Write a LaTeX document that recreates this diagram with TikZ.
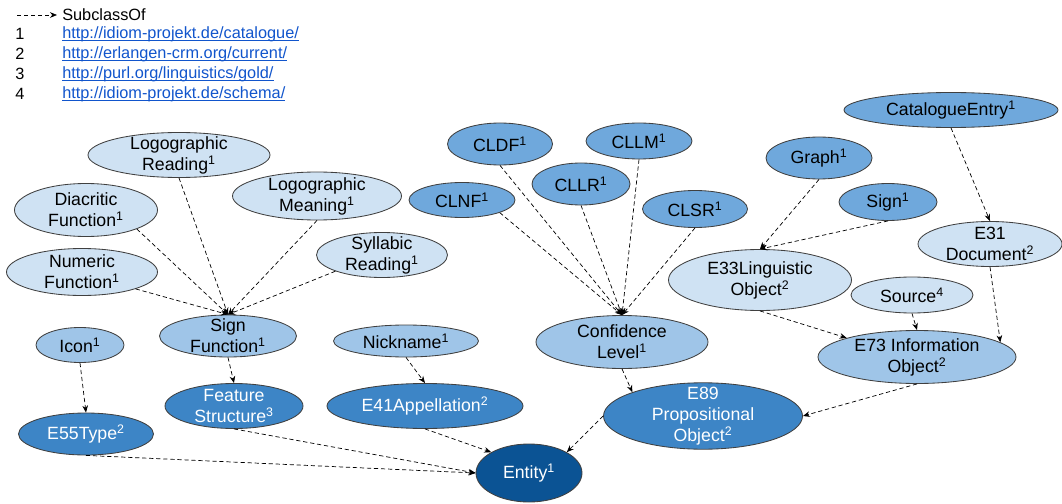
\documentclass[tikz,border=0pt]{standalone}
\usepackage{fontspec}
\setmainfont{Liberation Sans}
\usepackage{tikz}
\usetikzlibrary{arrows.meta,shapes.geometric,positioning}

\definecolor{lightcls}{HTML}{CFE2F3}
\definecolor{midcls}{HTML}{9FC5E8}
\definecolor{clcls}{HTML}{6FA8DC}
\definecolor{darkcls}{HTML}{3D85C6}
\definecolor{deepcls}{HTML}{0B5394}
\definecolor{urlblue}{HTML}{1155CC}

\newcommand{\srcno}[1]{\textsuperscript{#1}}
\newcommand{\urlline}[1]{\setbox0\hbox{#1}\rlap{\rule[-1.5pt]{\wd0}{0.5pt}}\box0}

\begin{document}
\begin{tikzpicture}[x=0.025cm, y=-0.025cm,
  cls/.style={ellipse, draw=black!75, line width=0.6pt, align=center,
    inner xsep=0pt, inner ysep=-4pt, font=\fontsize{12.6}{15}\selectfont},
  sz/.style 2 args={minimum width=#1*0.025cm, minimum height=#2*0.025cm},
  light/.style={cls, fill=lightcls},
  mid/.style={cls, fill=midcls},
  clb/.style={cls, fill=clcls},
  dark/.style={cls, fill=darkcls, text=white},
  deep/.style={cls, fill=deepcls, text=white},
  legend/.style={font=\fontsize{11.6}{14}\selectfont, inner sep=0pt},
  isa/.style={-{Stealth[length=5pt,width=4pt]}, dash pattern=on 3pt off 2pt,
    line width=0.5pt}
]
  \useasboundingbox (0,0) rectangle (1062,504);

  % legend
  \coordinate (keyfrom) at (17,15);
  \node[legend, anchor=west, inner xsep=0.125cm] (key) at (57,15) {SubclassOf};
  \draw[isa] (keyfrom) -- (key);
  \node[legend] (n1) at (20,34) {1};
  \node[legend] (n2) at (20,54) {2};
  \node[legend] (n3) at (20,74) {3};
  \node[legend] (n4) at (20,94) {4};
  \node[legend, anchor=west, text=urlblue] (u1) at (62,34)
    {\urlline{http://idiom-projekt.de/catalogue/}};
  \node[legend, anchor=west, text=urlblue] (u2) at (62,54)
    {\urlline{http://erlangen-crm.org/current/}};
  \node[legend, anchor=west, text=urlblue] (u3) at (62,74)
    {\urlline{http://purl.org/linguistics/gold/}};
  \node[legend, anchor=west, text=urlblue] (u4) at (62,94)
    {\urlline{http://idiom-projekt.de/schema/}};

  % sign functions
  \node[light, sz={182}{45}] (lr) at (179,155) {Logographic\\Reading\srcno{1}};
  \node[light, sz={143}{53}] (dia) at (86,210) {Diacritic\\Function\srcno{1}};
  \node[light, sz={151}{47}] (num) at (82,272) {Numeric\\Function\srcno{1}};
  \node[light, sz={169}{48}] (lm) at (317,196) {Logographic\\Meaning\srcno{1}};
  \node[light, sz={131}{45}] (syl) at (382,255) {Syllabic\\Reading\srcno{1}};
  \node[mid, sz={137}{42}] (sf) at (228,336) {Sign\\Function\srcno{1}};
  \node[mid, sz={88}{35}] (icon) at (80,345) {Icon\srcno{1}};
  \node[dark, sz={135}{42}] (e55) at (86,434) {E55Type\srcno{2}};
  \node[dark, sz={138}{45}] (fs) at (234,406) {Feature\\Structure\srcno{3}};
  \node[mid, sz={145}{32}] (nick) at (406,341) {Nickname\srcno{1}};
  \node[dark, sz={196}{45}] (e41) at (425,406) {E41Appellation\srcno{2}};
  \node[deep, sz={106}{58}] (ent) at (529,473) {Entity\srcno{1}};

  % confidence levels
  \node[clb, sz={105}{42}] (cldf) at (500,144) {CLDF\srcno{1}};
  \node[clb, sz={106}{36}] (cllm) at (639,141) {CLLM\srcno{1}};
  \node[clb, sz={98}{42}] (cllr) at (581,184) {CLLR\srcno{1}};
  \node[clb, sz={106}{35}] (clnf) at (462,200) {CLNF\srcno{1}};
  \node[clb, sz={105}{37}] (clsr) at (695,209) {CLSR\srcno{1}};
  \node[mid, sz={172}{53}] (cl) at (622,342) {Confidence\\Level\srcno{1}};
  \node[dark, sz={199}{65}] (e89) at (703,416) {E89\\Propositional\\Object\srcno{2}};

  % objects
  \node[clb, sz={214}{35}] (cat) at (951,110) {CatalogueEntry\srcno{1}};
  \node[clb, sz={106}{42}] (graph) at (819,158) {Graph\srcno{1}};
  \node[clb, sz={98}{37}] (sign) at (888,202) {Sign\srcno{1}};
  \node[light, sz={144}{45}] (e31) at (990,244) {E31\\Document\srcno{2}};
  \node[light, sz={183}{61}] (e33) at (760,280) {E33Linguistic\\Object\srcno{2}};
  \node[light, sz={122}{36}] (source) at (912,295) {Source\srcno{4}};
  \node[mid, sz={198}{53}] (e73) at (917,357) {E73 Information\\Object\srcno{2}};

  \draw[isa] (lr.south) -- (sf.north);
  \draw[isa] (dia.south east) -- (sf.north);
  \draw[isa] (num.south east) -- (sf.north);
  \draw[isa] (lm.south) -- (sf.north);
  \draw[isa] (syl.south west) -- (sf.north);
  \draw[isa] (sf.south) -- (fs.north);
  \draw[isa] (icon.south) -- (e55.north);
  \draw[isa] (nick.south) -- (e41.north);
  \draw[isa] (e55.south) -- (ent.west);
  \draw[isa] (fs.south) -- (ent.west);
  \draw[isa] (e41.south) -- (ent.north west);
  \draw[isa] (e89.west) -- (ent.north east);

  \draw[isa] (clnf.south east) -- (cl.north);
  \draw[isa] (cldf.south) -- (cl.north);
  \draw[isa] (cllr.south) -- (cl.north);
  \draw[isa] (cllm.south) -- (cl.north);
  \draw[isa] (clsr.south) -- (cl.north);
  \draw[isa] (cl.south) -- (e89.north west);

  \draw[isa] (graph.south) -- (e33.north);
  \draw[isa] (sign.south) -- (e33.north);
  \draw[isa] (cat.south) -- (e31.north);
  \draw[isa] (e33.south) -- (e73.north west);
  \draw[isa] (source.south) -- (e73.north);
  \draw[isa] (e31.south) -- (e73.10);
  \draw[isa] (e73.south) -- (e89.east);
\end{tikzpicture}
\end{document}
